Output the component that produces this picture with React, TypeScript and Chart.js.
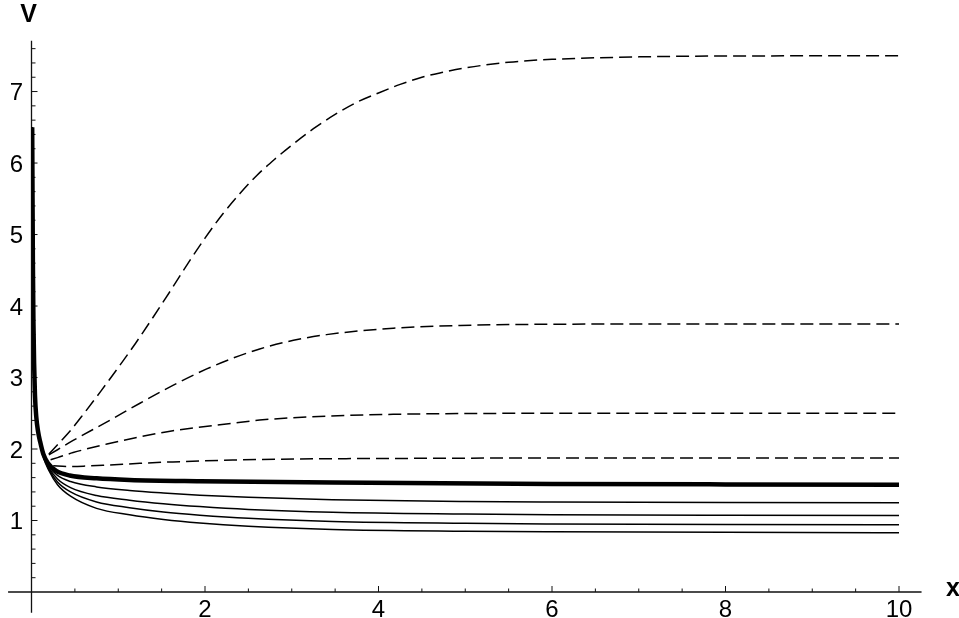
import React, { useEffect, useRef } from "react";
import { Chart, registerables } from "chart.js";

Chart.register(...registerables);

// ---- data ----
const thickX = [0.008, 0.012, 0.016, 0.022, 0.03, 0.04, 0.055, 0.075, 0.1, 0.136, 0.19, 0.29, 0.44, 0.75, 1.13, 1.94, 3.47, 6, 8, 10];
const thickV = [6.5, 5.5, 4.6, 3.8, 3.2, 2.75, 2.45, 2.25, 2.1, 1.93, 1.8, 1.69, 1.63, 1.59, 1.568, 1.55, 1.53, 1.512, 1.505, 1.5];

const solidX = [0.008, 0.012, 0.016, 0.022, 0.03, 0.04, 0.055, 0.075, 0.1, 0.136, 0.2, 0.3, 0.45, 0.75, 1.13, 1.52, 1.94, 2.5, 3.47, 5, 6, 8, 10];
const solid1V = [6.5, 5.5, 4.6, 3.8, 3.2, 2.75, 2.45, 2.25, 2.1, 1.92, 1.76, 1.63, 1.545, 1.47, 1.42, 1.385, 1.355, 1.325, 1.29, 1.265, 1.258, 1.252, 1.25];
const solid2V = [6.5, 5.5, 4.6, 3.8, 3.2, 2.75, 2.45, 2.25, 2.1, 1.91, 1.74, 1.58, 1.46, 1.35, 1.285, 1.235, 1.195, 1.155, 1.115, 1.09, 1.08, 1.073, 1.07];
const solid3V = [6.5, 5.5, 4.6, 3.8, 3.2, 2.75, 2.45, 2.25, 2.1, 1.9, 1.72, 1.54, 1.4, 1.26, 1.18, 1.12, 1.075, 1.03, 0.985, 0.96, 0.952, 0.944, 0.94];
const solid4V = [6.5, 5.5, 4.6, 3.8, 3.2, 2.75, 2.45, 2.25, 2.1, 1.89, 1.7, 1.5, 1.34, 1.17, 1.08, 1.015, 0.965, 0.92, 0.875, 0.85, 0.842, 0.834, 0.83];

const dash1X = [0.2, 0.3, 0.45, 0.6, 0.8, 1.0, 1.2, 1.4, 1.6, 1.8, 2.0, 2.2, 2.4, 2.6, 2.8, 3.0, 3.25, 3.5, 3.75, 4.0, 4.25, 4.5, 4.75, 5.0, 5.5, 6, 7, 8, 10];
const dash1V = [1.93, 2.06, 2.26, 2.49, 2.81, 3.14, 3.48, 3.84, 4.21, 4.59, 4.95, 5.28, 5.57, 5.83, 6.05, 6.25, 6.48, 6.68, 6.85, 6.98, 7.1, 7.2, 7.27, 7.33, 7.41, 7.45, 7.485, 7.497, 7.5];

const dash2X = [0.2, 0.3, 0.48, 0.87, 1.25, 1.63, 2.02, 2.32, 2.63, 3.02, 3.4, 4.17, 4.94, 6, 8, 10];
const dash2V = [1.92, 1.99, 2.12, 2.38, 2.64, 2.89, 3.12, 3.27, 3.4, 3.52, 3.6, 3.69, 3.728, 3.745, 3.75, 3.75];

const dash3X = [0.22, 0.3, 0.48, 0.87, 1.25, 1.63, 2.32, 2.63, 3.4, 4.17, 5, 6, 10];
const dash3V = [1.85, 1.88, 1.95, 2.07, 2.17, 2.255, 2.36, 2.405, 2.46, 2.485, 2.496, 2.5, 2.5];

const dash4X = [0.25, 0.4, 0.6, 0.87, 1.25, 1.63, 2.32, 3.06, 4.59, 6, 10];
const dash4V = [1.765, 1.755, 1.76, 1.775, 1.8, 1.82, 1.845, 1.86, 1.87, 1.875, 1.875];

const xTickLabels = ["2", "4", "6", "8", "10"];
const yTickLabels = ["1", "2", "3", "4", "5", "6", "7"];
const xAxisTitle = "x";
const yAxisTitle = "V";

const pts = (xs: number[], vs: number[]) => xs.map((x, i) => ({ x, y: vs[i] }));

const axesPlugin = {
  id: "mathAxes",
  beforeDatasetsDraw(chart: any) {
    const ctx = chart.ctx as CanvasRenderingContext2D;
    const xs = chart.scales.x;
    const ys = chart.scales.y;
    const x0 = xs.getPixelForValue(0);
    const y0 = ys.getPixelForValue(0);
    ctx.save();
    ctx.strokeStyle = "#111";
    ctx.lineWidth = 1.3;
    ctx.beginPath();
    ctx.moveTo(xs.getPixelForValue(-0.27), y0);
    ctx.lineTo(xs.getPixelForValue(10.26), y0);
    ctx.moveTo(x0, ys.getPixelForValue(-0.29));
    ctx.lineTo(x0, ys.getPixelForValue(7.71));
    ctx.stroke();

    ctx.lineWidth = 1;
    ctx.beginPath();
    for (let i = 1; i <= 20; i++) {
      const v = i * 0.5;
      const px = xs.getPixelForValue(v);
      const major = i % 4 === 0;
      ctx.moveTo(px, y0);
      ctx.lineTo(px, y0 - (major ? 6 : 3.5));
    }
    for (let i = 1; i <= 38; i++) {
      const v = i * 0.2;
      const py = ys.getPixelForValue(v);
      const major = i % 5 === 0;
      ctx.moveTo(x0, py);
      ctx.lineTo(x0 + (major ? 6 : 4), py);
    }
    ctx.stroke();

    ctx.fillStyle = "#000";
    ctx.font = "24px 'Liberation Sans', Arial, sans-serif";
    ctx.textBaseline = "alphabetic";
    ctx.textAlign = "center";
    xTickLabels.forEach((t) => {
      const px = xs.getPixelForValue(Number(t));
      ctx.fillText(t, px, y0 + 24.5);
    });
    ctx.textAlign = "right";
    yTickLabels.forEach((t) => {
      const py = ys.getPixelForValue(Number(t));
      ctx.fillText(t, x0 - 8.5, py + 8.5);
    });

    ctx.font = "bold 25px 'Liberation Sans', Arial, sans-serif";
    ctx.textAlign = "center";
    ctx.fillText(yAxisTitle, x0 - 3, 22);
    ctx.textAlign = "left";
    ctx.fillText(xAxisTitle, 946, y0 + 4);
    ctx.restore();
  },
};

export default function App() {
  const ref = useRef<HTMLCanvasElement | null>(null);
  useEffect(() => {
    if (!ref.current) return;
    const common = { pointRadius: 0, borderColor: "#000", fill: false, cubicInterpolationMode: "monotone" as const };
    const dash = [13, 6];
    const chart = new Chart(ref.current, {
      type: "line",
      data: {
        datasets: [
          { ...common, label: "thick", data: pts(thickX, thickV), borderWidth: 4.5 },
          { ...common, label: "s1", data: pts(solidX, solid1V), borderWidth: 1.5 },
          { ...common, label: "s2", data: pts(solidX, solid2V), borderWidth: 1.5 },
          { ...common, label: "s3", data: pts(solidX, solid3V), borderWidth: 1.5 },
          { ...common, label: "s4", data: pts(solidX, solid4V), borderWidth: 1.5 },
          { ...common, label: "d1", data: pts(dash1X, dash1V), borderWidth: 1.5, borderDash: dash },
          { ...common, label: "d2", data: pts(dash2X, dash2V), borderWidth: 1.5, borderDash: dash },
          { ...common, label: "d3", data: pts(dash3X, dash3V), borderWidth: 1.5, borderDash: dash },
          { ...common, label: "d4", data: pts(dash4X, dash4V), borderWidth: 1.5, borderDash: dash },
        ],
      },
      options: {
        animation: false,
        responsive: true,
        maintainAspectRatio: false,
        parsing: false as any,
        layout: { padding: { left: 31.5, right: 60, top: 41.5, bottom: 26 } },
        plugins: { legend: { display: false }, tooltip: { enabled: false } },
        scales: {
          x: { type: "linear", min: 0, max: 10, display: false },
          y: { type: "linear", min: 0, max: 7.7, display: false },
        },
        elements: { line: { borderCapStyle: "butt" } },
      },
      plugins: [axesPlugin],
    });
    return () => chart.destroy();
  }, []);
  return (
    <div style={{ position: "fixed", left: 0, top: 0, width: 959, height: 618, background: "#fff" }}>
      <canvas ref={ref} />
    </div>
  );
}
